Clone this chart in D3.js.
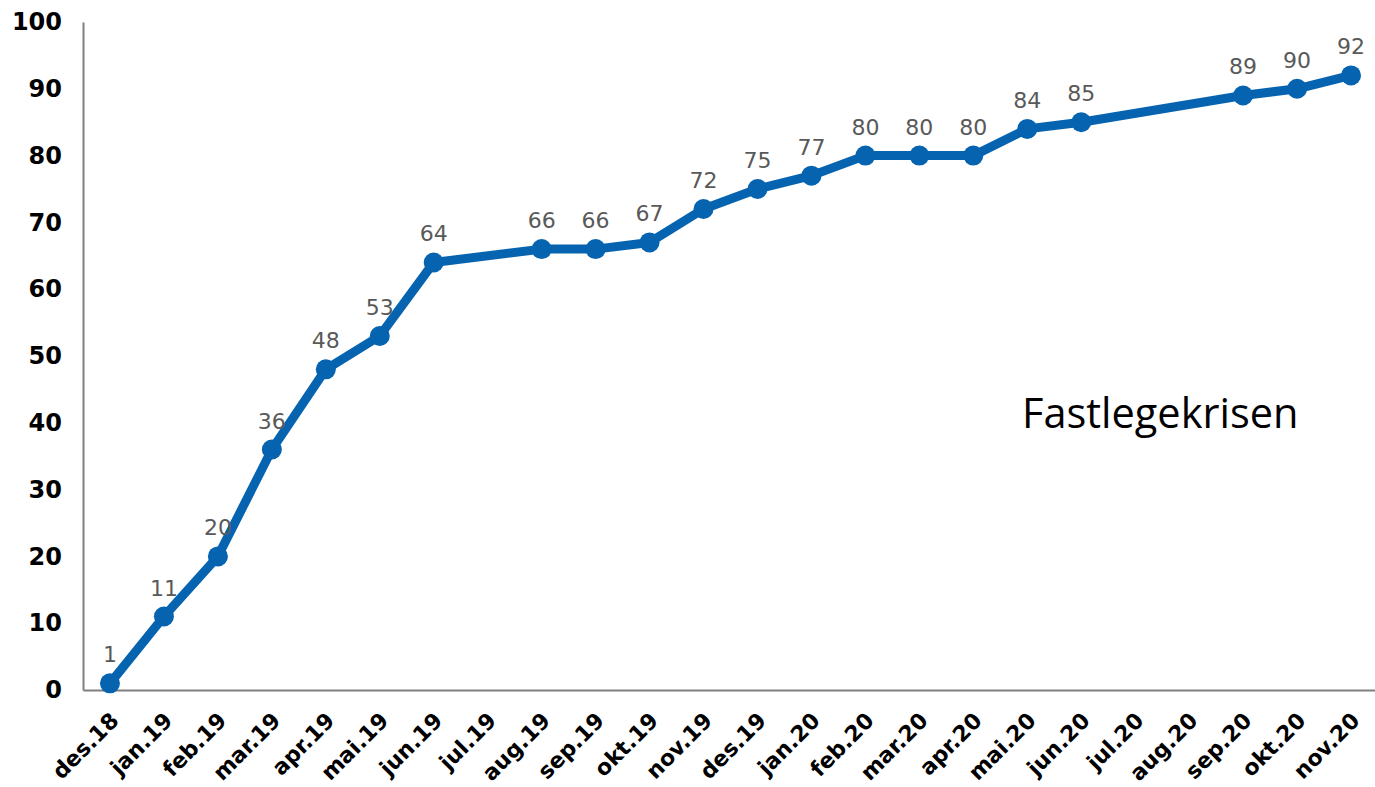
<!DOCTYPE html>
<html>
<head>
<meta charset="UTF-8">
<title>Fastlegekrisen</title>
<script src="https://cdn.jsdelivr.net/npm/d3@7"></script>
<style>
  body { margin: 0; background: #fff; }
  svg { display: block; }
</style>
</head>
<body>
<svg width="1375" height="787"></svg>
<script>
const months = ["des.18", "jan.19", "feb.19", "mar.19", "apr.19", "mai.19", "jun.19", "jul.19",
  "aug.19", "sep.19", "okt.19", "nov.19", "des.19", "jan.20", "feb.20", "mar.20", "apr.20",
  "mai.20", "jun.20", "jul.20", "aug.20", "sep.20", "okt.20", "nov.20"];
// null = no value that month, the line runs straight across
const values = [1, 11, 20, 36, 48, 53, 64, null, 66, 66, 67, 72, 75, 77, 80, 80, 80,
  84, 85, null, null, 89, 90, 92];
const yTicks = [0, 10, 20, 30, 40, 50, 60, 70, 80, 90, 100];

const svg = d3.select("svg");
const plotLeft = 83, plotRight = 1378, plotTop = 22, plotBottom = 690;

const x = d3.scaleBand().domain(months).range([plotLeft, plotRight]);
const y = d3.scaleLinear().domain([0, 100]).range([plotBottom, plotTop]);
const cx = d => x(d) + x.bandwidth() / 2;

const points = months.map((m, i) => ({ m, v: values[i] })).filter(d => d.v != null);

// axes
const yAxis = svg.append("g")
  .attr("transform", `translate(${plotLeft},0)`)
  .call(d3.axisLeft(y).tickValues(yTicks).tickSize(0).tickPadding(21));
yAxis.select(".domain").attr("stroke", "#808080").attr("stroke-width", 2);
yAxis.selectAll("text")
  .attr("font-family", "DejaVu Sans")
  .attr("font-weight", "bold")
  .attr("font-size", 24)
  .attr("fill", "#000");

const xAxis = svg.append("g")
  .attr("transform", `translate(0,${plotBottom})`)
  .call(d3.axisBottom(x).tickSize(0).tickPadding(0));
xAxis.select(".domain").attr("stroke", "#808080").attr("stroke-width", 2);
xAxis.selectAll("text")
  .attr("font-family", "DejaVu Sans")
  .attr("font-weight", "bold")
  .attr("font-size", 22)
  .attr("fill", "#000")
  .attr("text-anchor", "end")
  .attr("dy", 0)
  .attr("transform", "translate(10,32) rotate(-45)");

// line + markers
svg.append("path")
  .datum(points)
  .attr("fill", "none")
  .attr("stroke", "#0563b0")
  .attr("stroke-width", 9)
  .attr("stroke-linejoin", "round")
  .attr("d", d3.line().x(d => cx(d.m)).y(d => y(d.v)));

svg.append("g").selectAll("circle")
  .data(points)
  .join("circle")
  .attr("cx", d => cx(d.m))
  .attr("cy", d => y(d.v))
  .attr("r", 10)
  .attr("fill", "#0563b0");

svg.append("g").selectAll("text")
  .data(points)
  .join("text")
  .attr("x", d => cx(d.m))
  .attr("y", d => y(d.v) - 21)
  .attr("text-anchor", "middle")
  .attr("font-family", "DejaVu Sans")
  .attr("font-size", 22)
  .attr("fill", "#595959")
  .text(d => d.v);

svg.append("text")
  .attr("x", 1022)
  .attr("y", 428)
  .attr("font-family", "Open Sans")
  .attr("font-size", 41.5)
  .attr("fill", "#000")
  .text("Fastlegekrisen");
</script>
</body>
</html>
